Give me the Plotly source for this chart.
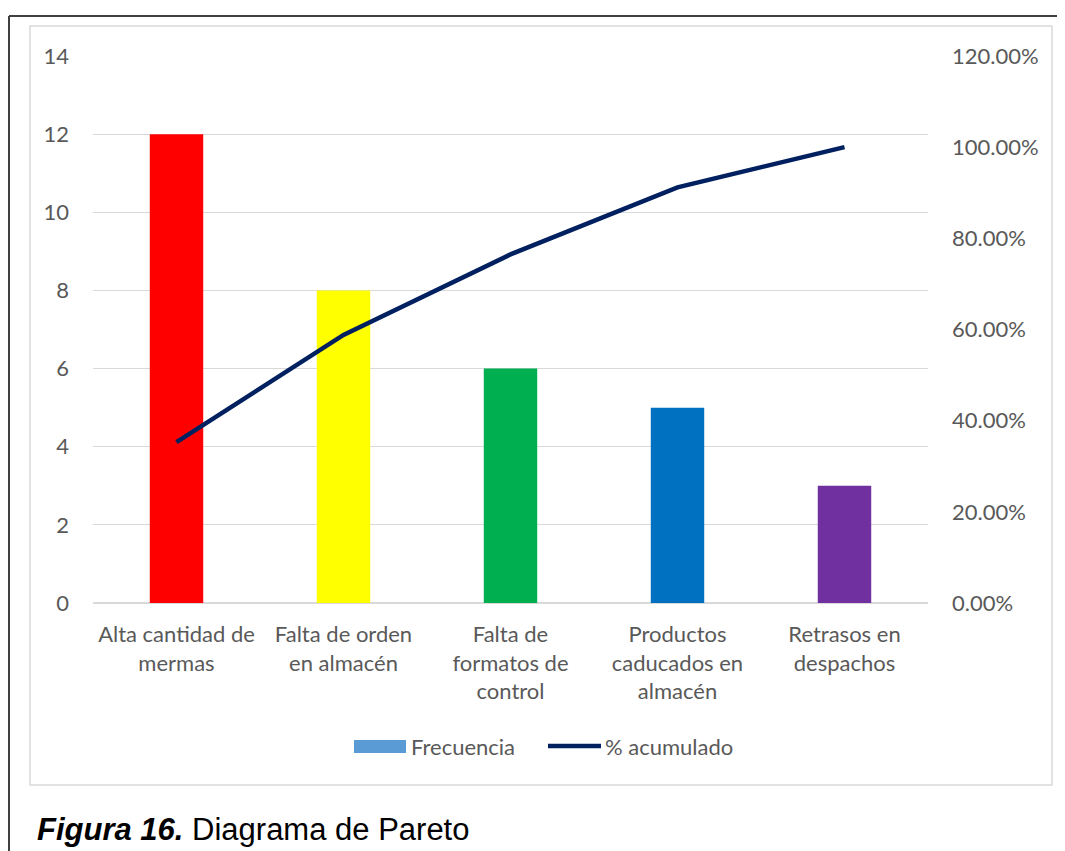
import plotly.graph_objects as go

# datos del diagrama de Pareto
categorias = [
    "Alta cantidad de<br>mermas",
    "Falta de orden<br>en almacén",
    "Falta de<br>formatos de<br>control",
    "Productos<br>caducados en<br>almacén",
    "Retrasos en<br>despachos",
]
frecuencia = [12, 8, 6, 5, 3]
pct_acumulado = [0.3529, 0.5882, 0.7647, 0.9118, 1.0]
colores = ["#FF0000", "#FFFF00", "#00B050", "#0070C0", "#7030A0"]

OFF = 8  # margen por defecto del <body>
W, H = 1065 - OFF, 851 - OFF
PL, PR, PT, PB = 93, 928, 56, 603   # área de trazado (píxeles de la página)
TXT = "#595959"
FONT = "Lato, Open Sans, sans-serif"


def px(x):
    return (x - PL) / (PR - PL)


def py(y):
    return (PB - y) / (PB - PT)


fig = go.Figure()
fig.add_trace(go.Bar(
    x=categorias, y=frecuencia, name="Frecuencia",
    marker=dict(color=colores, line=dict(width=0)),
    width=0.32, showlegend=False,
))
fig.add_trace(go.Scatter(
    x=categorias, y=pct_acumulado, name="% acumulado", yaxis="y2",
    mode="lines", line=dict(color="#002060", width=4.5),
    showlegend=False,
))

shapes = [
    # borde del gráfico
    dict(type="rect", xref="paper", yref="paper",
         x0=px(30), x1=px(1052), y0=py(785), y1=py(26),
         line=dict(color="#D9D9D9", width=1.5), layer="below"),
    # bordes de la página
    dict(type="line", xref="paper", yref="paper",
         x0=px(9), x1=px(1070), y0=py(16), y1=py(16),
         line=dict(color="#404040", width=2)),
    dict(type="line", xref="paper", yref="paper",
         x0=px(9), x1=px(9), y0=py(16), y1=py(860),
         line=dict(color="#404040", width=2)),
    # leyenda
    dict(type="rect", xref="paper", yref="paper",
         x0=px(354), x1=px(406), y0=py(753), y1=py(740),
         fillcolor="#5B9BD5", line=dict(width=0)),
    dict(type="line", xref="paper", yref="paper",
         x0=px(548), x1=px(601), y0=py(746), y1=py(746),
         line=dict(color="#002060", width=4.5)),
]

annotations = [
    dict(text="Frecuencia", xref="paper", yref="paper", x=px(409), y=py(746),
         xanchor="left", yanchor="middle", showarrow=False,
         font=dict(family=FONT, size=22, color=TXT)),
    dict(text="% acumulado", xref="paper", yref="paper", x=px(603), y=py(746),
         xanchor="left", yanchor="middle", showarrow=False,
         font=dict(family=FONT, size=22, color=TXT)),
    dict(text="<b><i>Figura 16.</i></b> Diagrama de Pareto", xref="paper", yref="paper",
         x=px(35), y=py(829), xanchor="left", yanchor="middle", showarrow=False,
         font=dict(family="Liberation Sans, Arial, sans-serif", size=31, color="#000000")),
]

fig.update_layout(
    width=W, height=H,
    margin=dict(l=PL - OFF, r=W - (PR - OFF), t=PT - OFF, b=H - (PB - OFF), pad=0),
    paper_bgcolor="white", plot_bgcolor="white",
    font=dict(family=FONT, size=22, color=TXT),
    showlegend=False,
    xaxis=dict(showgrid=False, showline=False, zeroline=False, ticks="",
               ticklabelstandoff=16, tickfont=dict(size=22, color=TXT)),
    yaxis=dict(range=[0, 14], dtick=2, showgrid=True, gridcolor="#D9D9D9",
               gridwidth=1.3, zeroline=True, zerolinecolor="#D9D9D9",
               zerolinewidth=1.5, showline=False, ticks="",
               ticklabelstandoff=23, tickfont=dict(size=22, color=TXT)),
    yaxis2=dict(range=[0, 1.2], dtick=0.2, tickformat=".2%", overlaying="y",
                side="right", showgrid=False, zeroline=False, showline=False,
                ticks="", ticklabelstandoff=23,
                tickfont=dict(size=22, color=TXT)),
    shapes=shapes,
    annotations=annotations,
)

fig.write_html("out.html")
